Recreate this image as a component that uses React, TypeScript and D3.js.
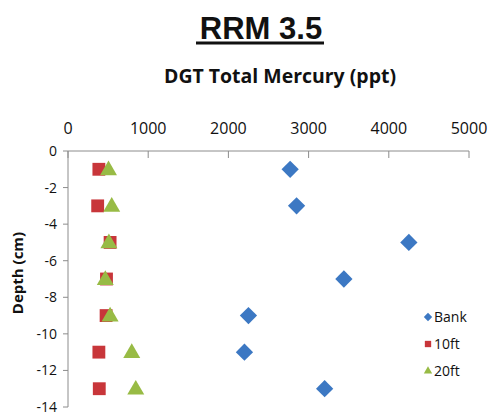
import React from 'react'
import * as d3 from 'd3'

// depths (cm) shared by all three series
const depths = [-1, -3, -5, -7, -9, -11, -13]
const bankValues = [2770, 2850, 4250, 3440, 2250, 2200, 3200]
const tenFtValues = [385, 370, 525, 480, 475, 385, 390]
const twentyFtValues = [505, 545, 510, 465, 525, 795, 845]
const xTicks = [0, 1000, 2000, 3000, 4000, 5000]
const yTicks = [0, -2, -4, -6, -8, -10, -12, -14]

const seriesNames = ['Bank', '10ft', '20ft']
const seriesColors = ['#3C78C3', '#C8363A', '#98BB45']

const width = 493
const height = 413
const plot = { left: 68, right: 469, top: 151, bottom: 407 }

const App = () => {
    const x = d3.scaleLinear().domain([0, 5000]).range([plot.left, plot.right])
    const y = d3.scaleLinear().domain([0, -14]).range([plot.top, plot.bottom])

    const diamond = d3.symbol().type(d3.symbolDiamond2).size(190)
    const square = d3.symbol().type(d3.symbolSquare).size(165)
    const triangle = d3.symbol().type(d3.symbolTriangle).size(125)

    const axisColor = '#8c8c8c'
    const font = "'Open Sans', sans-serif"

    const series = [
        { values: bankValues, path: diamond() },
        { values: tenFtValues, path: square() },
        { values: twentyFtValues, path: triangle() },
    ]

    return (
        <div style={{ position: 'absolute', left: 0, top: 0 }}>
            <svg width={width} height={height} style={{ display: 'block', background: '#fff' }}>
                {/* titles */}
                <text x={261} y={39} textAnchor="middle" fontFamily="'Liberation Sans', Arial, sans-serif"
                      fontWeight="bold" fontSize={31} fill="#111">RRM 3.5</text>
                <line x1={196} x2={324} y1={43} y2={43} stroke="#111" strokeWidth={3} />
                <text x={280} y={83} textAnchor="middle" fontFamily={font} fontWeight={700}
                      fontSize={19} fill="#111" textLength={232} lengthAdjust="spacingAndGlyphs">DGT Total Mercury (ppt)</text>

                {/* top x axis */}
                <line x1={plot.left} x2={plot.right} y1={plot.top} y2={plot.top} stroke={axisColor} />
                {xTicks.map(t => (
                    <g key={`xt-${t}`}>
                        <line x1={x(t)} x2={x(t)} y1={plot.top} y2={plot.top + 7} stroke={axisColor} />
                        <text x={x(t)} y={134} textAnchor="middle" fontFamily={font} fontSize={16}
                              fill="#111">{t}</text>
                    </g>
                ))}

                {/* left y axis */}
                <line x1={plot.left} x2={plot.left} y1={plot.top} y2={plot.bottom} stroke={axisColor} />
                {yTicks.map(t => (
                    <g key={`yt-${t}`}>
                        <line x1={plot.left - 5} x2={plot.left} y1={y(t)} y2={y(t)} stroke={axisColor} />
                        <text x={57} y={y(t) + 5} textAnchor="end" fontFamily={font} fontSize={14}
                              fill="#111">{t}</text>
                    </g>
                ))}
                <text transform={`translate(23,${(plot.top + plot.bottom) / 2 - 6}) rotate(-90)`}
                      textAnchor="middle" fontFamily={font} fontWeight={700} fontSize={15}
                      fill="#111">Depth (cm)</text>

                {/* points */}
                {series.map((s, si) => (
                    <g key={`series-${si}`}>
                        {s.values.map((v, i) => (
                            <path key={`pt-${si}-${i}`} d={s.path!}
                                  transform={`translate(${x(v)},${y(depths[i]) + (si === 2 ? 1 : 0)})`}
                                  fill={seriesColors[si]} />
                        ))}
                    </g>
                ))}

                {/* legend */}
                {seriesNames.map((name, i) => {
                    const ly = 317 + i * 27
                    const sym = [d3.symbol().type(d3.symbolDiamond2).size(45),
                                 d3.symbol().type(d3.symbolSquare).size(40),
                                 d3.symbol().type(d3.symbolTriangle).size(30)][i]
                    return (
                        <g key={`leg-${name}`}>
                            <path d={sym()!} transform={`translate(428,${ly})`} fill={seriesColors[i]} />
                            <text x={434} y={ly + 5} fontFamily={font} fontSize={14} fill="#111">{name}</text>
                        </g>
                    )
                })}
            </svg>
        </div>
    )
}

export default App
